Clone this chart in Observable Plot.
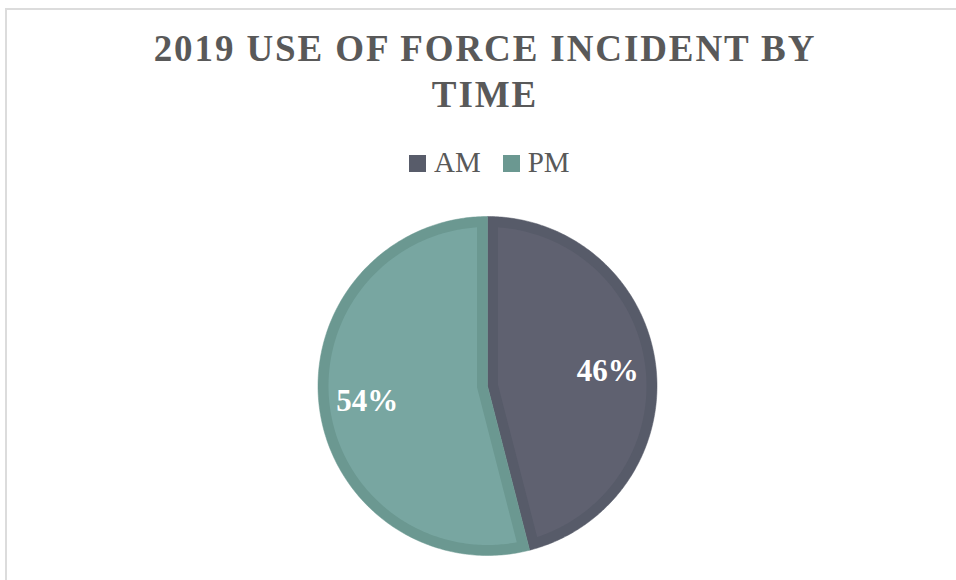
<!DOCTYPE html>
<html>
<head>
<meta charset="utf-8">
<script src="https://cdn.jsdelivr.net/npm/d3@7"></script>
<script src="https://cdn.jsdelivr.net/npm/@observablehq/plot@0.6"></script>
<style>
  html, body { margin: 0; padding: 0; background: #fff; }
  #wrap { position: relative; width: 956px; height: 580px; overflow: hidden; background: #fff; }
  #frame { position: absolute; left: 5px; top: 8px; width: 1200px; height: 1200px; border: 2px solid #dcdcdc; box-sizing: border-box; }
  #header { position: relative; height: 200px; }
  #title { position: absolute; left: 5px; width: 960px; top: 26px; text-align: center;
           font-family: "Liberation Serif", "Times New Roman", serif; font-weight: bold;
           font-size: 37px; line-height: 46px; letter-spacing: 1.9px; color: #595959; }
  #legend { position: absolute; left: 409px; top: 148px; display: flex; align-items: center;
            font-family: "Liberation Serif", "Times New Roman", serif; font-size: 29px; line-height: 29px; color: #595959; }
  .item { display: flex; align-items: center; margin-right: 22px; }
  .sw { width: 17px; height: 17px; margin-right: 8px; margin-top: 2px; }
  #chart { position: relative; }
</style>
</head>
<body>
<div id="wrap">
  <div id="frame"></div>
  <div id="header">
    <div id="title">2019 USE OF FORCE INCIDENT BY<br>TIME</div>
    <div id="legend"></div>
  </div>
  <div id="chart"></div>
</div>
<script>
// ---- data ----
const categories = ["AM", "PM"];
const values = [46, 54];
const labels = ["46%", "54%"];

// ---- styling ----
const fillColors = ["#5f6170", "#78a6a1"];
const borderColors = ["#575b69", "#6b9891"];
const legendColors = ["#585c6a", "#6b9891"];

// legend
const legend = document.getElementById("legend");
categories.forEach((c, i) => {
  const it = document.createElement("div");
  it.className = "item";
  const sw = document.createElement("div");
  sw.className = "sw";
  sw.style.background = legendColors[i];
  const t = document.createElement("span");
  t.textContent = c;
  it.appendChild(sw); it.appendChild(t);
  legend.appendChild(it);
});

// pie geometry (unit circle, angles clockwise from top)
const R = 169.5, cx = 487, cy = 185.5;
const inset = 10.5 / R;
const pie = d3.pie().sort(null).value(d => d)(values);
const dir = a => [Math.sin(a), Math.cos(a)];
const N = 240;

function arcPts(r, a0, a1) {
  const pts = [];
  for (let k = 0; k <= N; k++) {
    const a = a0 + (a1 - a0) * k / N;
    pts.push([r * Math.sin(a), r * Math.cos(a)]);
  }
  return pts;
}
function wrapNear(a, ref) {
  while (a - ref > Math.PI) a -= 2 * Math.PI;
  while (a - ref < -Math.PI) a += 2 * Math.PI;
  return a;
}
function lineCircle(P, u, r) {
  const pu = P[0] * u[0] + P[1] * u[1];
  const pp = P[0] * P[0] + P[1] * P[1];
  const t = -pu + Math.sqrt(pu * pu - pp + r * r);
  return [P[0] + t * u[0], P[1] + t * u[1]];
}

const outer = [], inner = [];
pie.forEach((s, i) => {
  const a0 = s.startAngle, a1 = s.endAngle;
  [[0, 0], ...arcPts(1, a0, a1), [0, 0]].forEach(([x, y]) => outer.push({key: categories[i], x, y}));
  const th = a1 - a0, b = (a0 + a1) / 2;
  const m = inset / Math.sin(th / 2);
  const P = [m * Math.sin(b), m * Math.cos(b)];
  const r = 1 - inset;
  const q0 = lineCircle(P, dir(a0), r);
  const q1 = lineCircle(P, dir(a1), r);
  const al0 = wrapNear(Math.atan2(q0[0], q0[1]), a0);
  const al1 = wrapNear(Math.atan2(q1[0], q1[1]), a1);
  [P, ...arcPts(r, al0, al1), P].forEach(([x, y]) => inner.push({key: categories[i], x, y}));
});

const labelData = pie.map((s, i) => {
  const b = (s.startAngle + s.endAngle) / 2;
  return {x: 0.715 * Math.sin(b), y: 0.715 * Math.cos(b), text: labels[i]};
});

const marks = [];
categories.forEach((c, i) => {
  marks.push(Plot.line(outer.filter(d => d.key === c), {x: "x", y: "y", fill: borderColors[i], stroke: borderColors[i], strokeWidth: 0.5}));
});
categories.forEach((c, i) => {
  marks.push(Plot.line(inner.filter(d => d.key === c), {x: "x", y: "y", fill: fillColors[i], stroke: "none"}));
});
marks.push(Plot.text(labelData, {x: "x", y: "y", text: "text", fill: "white", fontSize: 31, fontWeight: "bold",
  fontFamily: "Liberation Serif, Times New Roman, serif"}));

const chart = Plot.plot({
  width: 956,
  height: 380,
  margin: 0,
  style: {background: "transparent", overflow: "visible"},
  x: {domain: [-1, 1], range: [cx - R, cx + R], axis: null},
  y: {domain: [-1, 1], range: [cy + R, cy - R], axis: null},
  marks
});
document.getElementById("chart").appendChild(chart);
</script>
</body>
</html>
